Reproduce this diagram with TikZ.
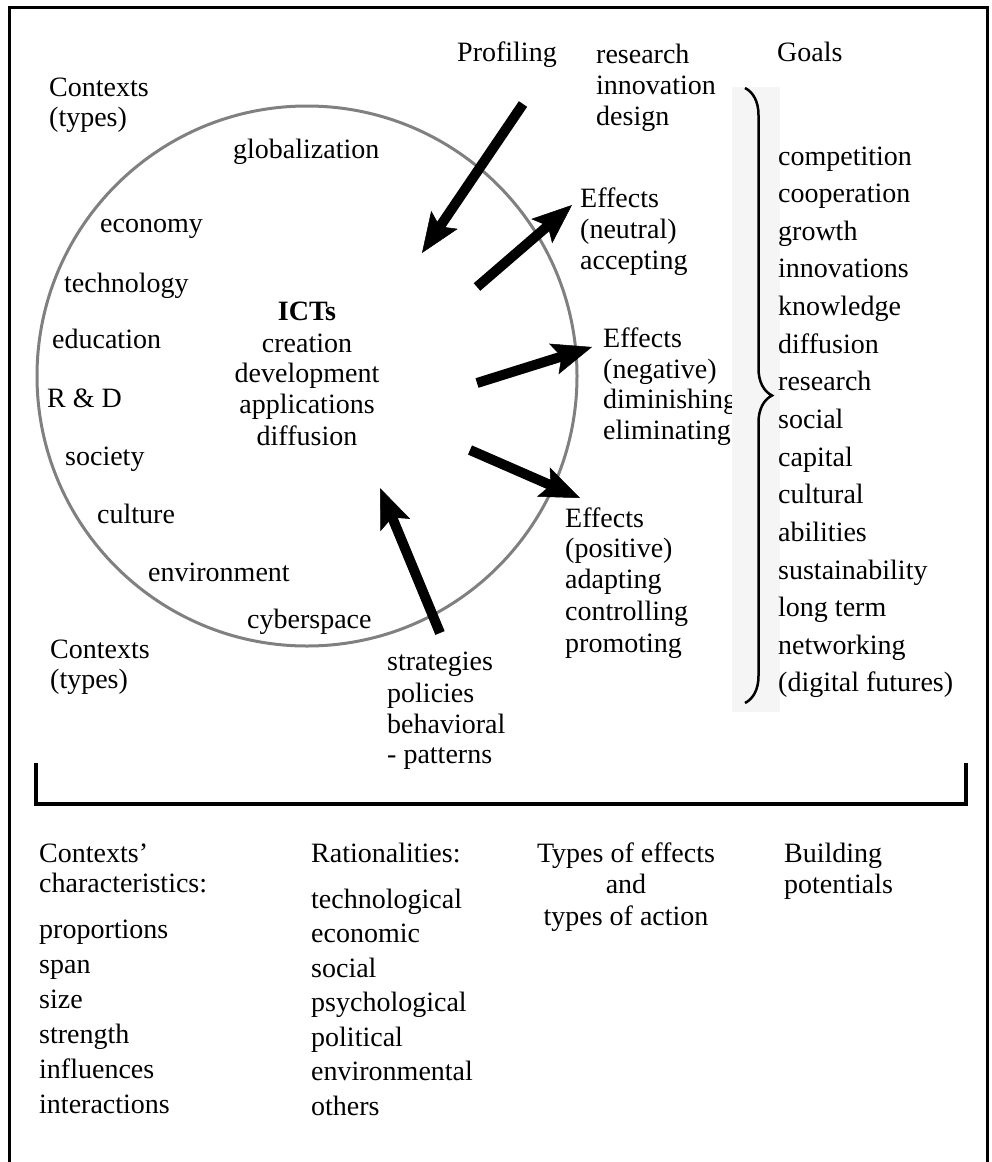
\documentclass[tikz,border=0pt]{standalone}
\usepackage{fontspec}
\setmainfont{Liberation Serif}
\usetikzlibrary{arrows.meta,decorations.pathreplacing}
\begin{document}
\begin{tikzpicture}[x=1pt,y=-1pt,
  txt/.style={anchor=base west,inner sep=0pt,font=\fontsize{28}{31}\selectfont},
  ctxt/.style={anchor=base,inner sep=0pt,font=\fontsize{28}{31}\selectfont},
  bigarrow/.style={line width=10pt,-{Stealth[length=40pt,width=32pt,inset=8pt,line width=0.5pt]}},
  frameline/.style={line width=3pt,black},
]
\useasboundingbox (0,0) rectangle (992,1162);
% outer frame
\draw[frameline] (9,1163) -- (9,7) -- (987,7) -- (987,1163);
% circle
\node[draw=black!50,line width=3pt,circle,minimum size=540pt,inner sep=0pt] (circ) at (307,376) {};
% contexts labels
\node[txt] (ctxA) at (49,96) {Contexts};
\node[txt] (ctxB) at (49,126) {(types)};
\node[txt] (ctxC) at (50,658) {Contexts};
\node[txt] (ctxD) at (50,688) {(types)};
% circle contents
\node[txt] (glob) at (233,158) {globalization};
\node[txt] (econ) at (100,232) {economy};
\node[txt] (tech) at (64,292) {technology};
\node[txt] (educ) at (52,348) {education};
\node[txt] (rnd) at (47,407) {R \& D};
\node[txt] (soc) at (65,465) {society};
\node[txt] (cult) at (97,523) {culture};
\node[txt] (env) at (148,581) {environment};
\node[txt] (cyb) at (247,628) {cyberspace};
% ICTs block
\node[ctxt,font=\fontsize{28}{31}\selectfont\bfseries] (ict) at (307,320) {ICTs};
\node[ctxt] (ict1) at (307,352) {creation};
\node[ctxt] (ict2) at (307,382) {development};
\node[ctxt] (ict3) at (307,413) {applications};
\node[ctxt] (ict4) at (307,445) {diffusion};
% top labels
\node[txt] (prof) at (457,61) {Profiling};
\node[txt] (res1) at (596,63) {research};
\node[txt] (res2) at (596,94) {innovation};
\node[txt] (res3) at (596,125) {design};
\node[txt] (goals) at (777,61) {Goals};
% effects
\node[txt] (en1) at (580,207) {Effects};
\node[txt] (en2) at (580,238) {(neutral)};
\node[txt] (en3) at (580,269) {accepting};
\node[txt] (eg1) at (603,347) {Effects};
\node[txt] (eg2) at (603,378) {(negative)};
\node[txt] (eg3) at (603,408) {diminishing};
\node[txt] (eg4) at (603,439) {eliminating};
\node[txt] (ep1) at (565,527) {Effects};
\node[txt] (ep2) at (565,557) {(positive)};
\node[txt] (ep3) at (565,588) {adapting};
\node[txt] (ep4) at (565,620) {controlling};
\node[txt] (ep5) at (565,652) {promoting};
% strategies
\node[txt] (st1) at (387,670) {strategies};
\node[txt] (st2) at (387,702) {policies};
\node[txt] (st3) at (387,733) {behavioral};
\node[txt] (st4) at (387,763) {- patterns};
% goals list with brace
\fill[black!4] (732,87) rectangle (780,712);
\draw[line width=2.5pt,decorate,decoration={brace,amplitude=27pt}] (745,88) -- (745,703);
\foreach \t [count=\i from 0] in {competition,cooperation,growth,innovations,knowledge,diffusion,research,social,capital,cultural,abilities,sustainability,long term,networking,{(digital futures)}}
  \node[txt] (goal\i) at (778,{165+\i*37.64}) {\t};
% arrows
\coordinate (a1s) at (523,104); \coordinate (a1e) at (422,253);
\coordinate (a2s) at (477,287); \coordinate (a2e) at (572,205);
\coordinate (a3s) at (477,383); \coordinate (a3e) at (592,347);
\coordinate (a4s) at (470,450); \coordinate (a4e) at (580,498);
\coordinate (a5s) at (440,633); \coordinate (a5e) at (380,488);
\draw[bigarrow] (a1s) -- (a1e);
\draw[bigarrow] (a2s) -- (a2e);
\draw[bigarrow] (a3s) -- (a3e);
\draw[bigarrow] (a4s) -- (a4e);
\draw[bigarrow] (a5s) -- (a5e);
% bracket
\coordinate (bk1) at (36,763); \coordinate (bk2) at (36,804);
\coordinate (bk3) at (966,804); \coordinate (bk4) at (966,763);
\draw[line width=4pt] (bk1) -- (bk2) -- (bk3) -- (bk4);
% bottom columns
\node[txt] (cc1) at (39,862) {Contexts’};
\node[txt] (cc2) at (39,892) {characteristics:};
\foreach \t [count=\i from 0] in {proportions,span,size,strength,influences,interactions}
  \node[txt] (cl\i) at (39,{938+\i*35}) {\t};
\node[txt] (rat) at (311,862) {Rationalities:};
\foreach \t [count=\i from 0] in {technological,economic,social,psychological,political,environmental,others}
  \node[txt] (rl\i) at (311,{908+\i*34.5}) {\t};
\node[ctxt] (te1) at (626,862) {Types of effects};
\node[ctxt] (te2) at (626,893) {and};
\node[ctxt] (te3) at (626,925) {types of action};
\node[txt] (bp1) at (784,862) {Building};
\node[txt] (bp2) at (784,893) {potentials};
\end{tikzpicture}
\end{document}
